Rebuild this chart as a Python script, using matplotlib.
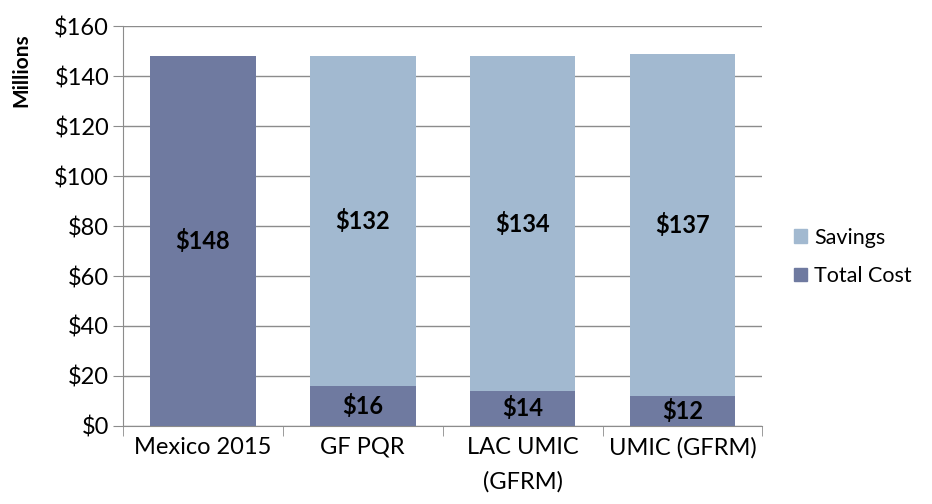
import matplotlib
matplotlib.use('Agg')
import matplotlib.pyplot as plt
from matplotlib.patches import Patch
import numpy as np

categories = ["Mexico 2015", "GF PQR", "LAC UMIC\n(GFRM)", "UMIC (GFRM)"]
total_cost = [148, 16, 14, 12]
savings = [0, 132, 134, 137]

COST_COLOR = "#6F7AA0"
SAVE_COLOR = "#A2B9D0"
GRID_COLOR = "#8C8C8C"
FS = 17

plt.rcParams['font.family'] = ['Lato', 'DejaVu Sans']

fig = plt.figure(figsize=(9.32, 5.04), dpi=100)
ax = fig.add_axes([0.132, 0.155, 0.686, 0.793])

x = np.arange(len(categories))
width = 0.66
ax.bar(x, total_cost, width, color=COST_COLOR, zorder=3)
ax.bar(x, savings, width, bottom=total_cost, color=SAVE_COLOR, zorder=3)

# data labels, centred in each segment
for i in range(len(categories)):
    ax.text(x[i], total_cost[i] / 2, f"${total_cost[i]}", ha='center', va='center',
            fontsize=FS, fontweight='bold', zorder=4)
    if savings[i] > 0:
        ax.text(x[i], total_cost[i] + savings[i] / 2, f"${savings[i]}", ha='center',
                va='center', fontsize=FS, fontweight='bold', zorder=4)

ax.set_xlim(-0.5, len(categories) - 0.5)
ax.set_ylim(0, 160)
ax.set_yticks(np.arange(0, 161, 20))
ax.set_yticklabels([f"${v}" for v in range(0, 161, 20)], fontsize=FS)
ax.set_xticks(x)
ax.set_xticklabels(categories, fontsize=FS, va='top', linespacing=1.75)
ax.tick_params(axis='x', length=0, pad=8)
ax.set_xticks(np.arange(-0.5, len(categories), 1), minor=True)
ax.tick_params(axis='x', which='minor', length=7, color=GRID_COLOR, direction='out')
ax.tick_params(axis='y', length=7, color=GRID_COLOR, direction='out', pad=3)

ax.grid(axis='y', color=GRID_COLOR, linewidth=1, zorder=0)
for s in ['top', 'right']:
    ax.spines[s].set_visible(False)
for s in ['left', 'bottom']:
    ax.spines[s].set_color(GRID_COLOR)

ax.set_ylabel("Millions", fontsize=15, fontweight='bold')
ax.yaxis.set_label_coords(-0.143, 0.89)

handles = [Patch(color=SAVE_COLOR, label="Savings"), Patch(color=COST_COLOR, label="Total Cost")]
fig.legend(handles=handles, loc='center left', bbox_to_anchor=(0.831, 0.49), frameon=False,
           fontsize=15.5, handlelength=0.6, handleheight=0.6, handletextpad=0.35, labelspacing=0.85)

fig.savefig("out.png", dpi=100)
